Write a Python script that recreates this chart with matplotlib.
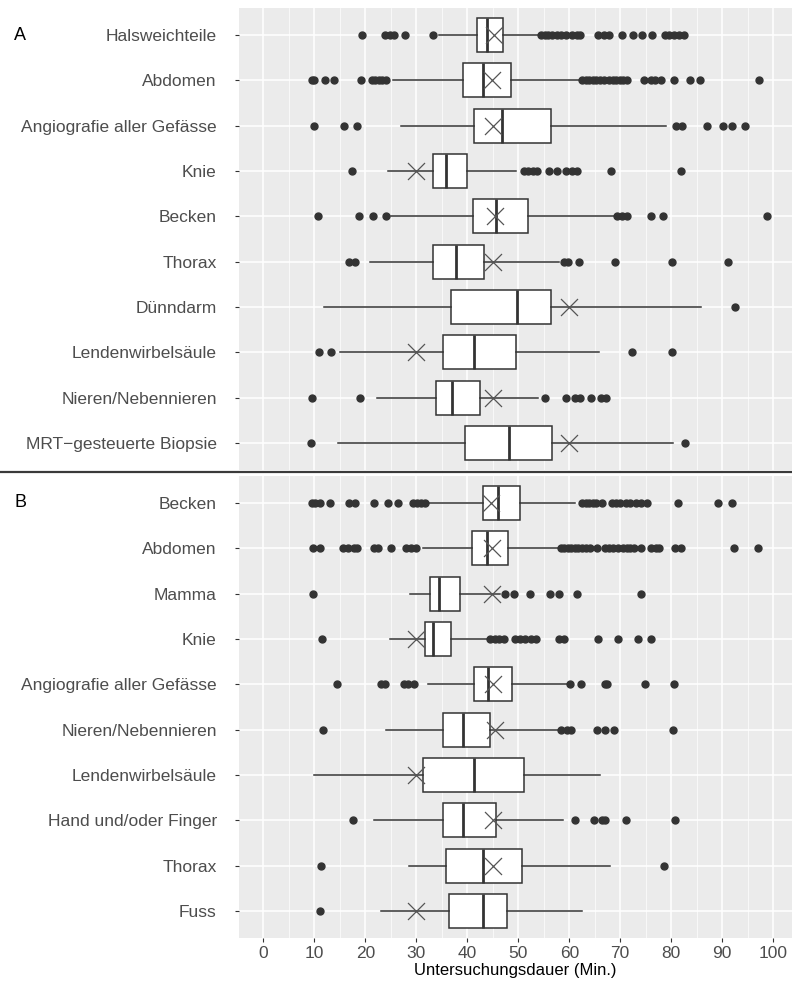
import matplotlib
matplotlib.use("Agg")
import matplotlib.pyplot as plt
from matplotlib.lines import Line2D

plt.rcParams['font.family'] = ['Liberation Sans', 'DejaVu Sans']

# ---- panel A ----
cats_a = ['Halsweichteile', 'Abdomen', 'Angiografie aller Gefässe', 'Knie', 'Becken',
          'Thorax', 'Dünndarm', 'Lendenwirbelsäule', 'Nieren/Nebennieren',
          'MRT\u2212gesteuerte Biopsie']
q1_a = [41.9, 39.1, 41.4, 33.3, 41.1, 33.3, 36.8, 35.2, 33.9, 39.6]
med_a = [43.8, 43.1, 46.8, 35.9, 45.7, 37.7, 49.8, 41.4, 37.0, 48.2]
q3_a = [46.9, 48.5, 56.5, 40.0, 52.0, 43.3, 56.5, 49.6, 42.4, 56.7]
wlo_a = [34.5, 25.5, 26.9, 24.5, 25.0, 21.0, 11.9, 15.1, 22.2, 14.7]
whi_a = [54.1, 62.2, 79.0, 49.6, 68.9, 57.9, 85.8, 65.9, 53.8, 80.3]
mean_a = [45.2, 44.9, 45.0, 29.9, 45.4, 45.0, 60.0, 29.9, 45.0, 60.0]
out_a = [
    [19.4, 23.8, 24.8, 25.6, 27.8, 33.2, 54.5, 55.2, 55.9, 56.6, 57.5, 58.4, 59.4,
     60.5, 61.5, 62.2, 65.7, 66.8, 67.7, 70.3, 72.6, 74.3, 76.2, 78.7, 79.6, 80.6, 81.5, 82.5],
    [9.5, 10.0, 12.1, 13.8, 19.1, 21.2, 21.9, 22.6, 23.3, 24.0, 62.5, 63.2, 63.9, 64.6,
     65.3, 66.0, 66.8, 67.8, 68.5, 69.2, 69.9, 70.6, 71.3, 74.6, 76.0, 76.9, 78.0, 80.6,
     83.7, 85.6, 97.3],
    [9.9, 15.8, 18.4, 81.0, 82.2, 87.0, 90.1, 91.9, 94.5],
    [17.3, 51.1, 52.0, 52.9, 53.6, 56.1, 57.6, 59.4, 60.5, 61.6, 68.2, 82.0],
    [10.7, 18.7, 21.5, 24.0, 69.4, 70.3, 71.3, 76.1, 78.3, 98.7],
    [16.8, 17.9, 59.0, 59.7, 61.9, 68.9, 80.2, 91.1],
    [92.5],
    [10.8, 13.3, 72.3, 80.1],
    [9.5, 19.0, 55.2, 59.4, 61.2, 62.2, 64.2, 66.3, 67.3],
    [9.4, 82.8],
]

# ---- panel B ----
cats_b = ['Becken', 'Abdomen', 'Mamma', 'Knie', 'Angiografie aller Gefässe',
          'Nieren/Nebennieren', 'Lendenwirbelsäule', 'Hand und/oder Finger', 'Thorax', 'Fuss']
q1_b = [43.0, 41.0, 32.7, 31.6, 41.4, 35.3, 31.3, 35.3, 35.8, 36.5]
med_b = [46.1, 43.8, 34.4, 33.3, 44.0, 39.1, 41.4, 39.1, 43.1, 43.1]
q3_b = [50.4, 47.9, 38.5, 36.7, 48.7, 44.5, 51.1, 45.7, 50.8, 47.7]
wlo_b = [32.2, 31.3, 28.7, 24.9, 32.2, 24.1, 9.9, 21.7, 28.5, 23.1]
whi_b = [61.2, 58.0, 46.4, 44.0, 59.7, 58.0, 66.1, 58.7, 68.0, 62.4]
mean_b = [44.7, 44.9, 44.9, 29.9, 45.0, 45.4, 29.9, 45.0, 45.0, 29.9]
out_b = [
    [9.5, 10.2, 11.0, 13.1, 16.8, 17.9, 21.7, 24.5, 26.4, 29.4, 30.1, 31.0, 31.7,
     62.5, 63.2, 63.9, 64.6, 65.3, 66.4, 68.4, 69.2, 70.0, 71.2, 72.0, 73.1, 74.1, 75.2,
     81.3, 89.2, 92.0],
    [9.8, 11.0, 15.6, 16.6, 17.7, 18.4, 21.7, 22.4, 25.0, 28.0, 28.9, 29.9,
     58.3, 59.0, 59.7, 60.4, 61.1, 61.8, 62.5, 63.3, 64.0, 65.4, 67.1, 67.8, 68.5, 69.5,
     70.6, 71.3, 72.0, 72.7, 74.1, 76.1, 77.0, 77.6, 80.8, 82.0, 92.4, 97.1],
    [9.7, 47.3, 49.2, 52.2, 56.2, 58.0, 61.5, 74.1],
    [11.4, 44.5, 45.4, 46.2, 47.1, 49.4, 50.4, 51.3, 52.4, 53.4, 58.0, 59.0, 65.7, 69.6,
     73.4, 76.0],
    [14.5, 23.1, 23.8, 27.5, 28.4, 29.6, 60.1, 62.3, 67.0, 67.5, 74.8, 80.6],
    [11.7, 58.3, 59.6, 60.4, 65.5, 67.1, 68.7, 80.4],
    [],
    [17.5, 61.2, 64.9, 66.4, 67.1, 71.2, 80.8],
    [11.2, 78.5],
    [11.1],
]

W, H = 792, 985
fig = plt.figure(figsize=(W / 100, H / 100), dpi=100)

BG = '#EBEBEB'
DARK = '#333333'
TXT = '#4D4D4D'


def draw_panel(ax, cats, q1, med, q3, wlo, whi, means, outs, show_x):
    n = len(cats)
    stats = []
    for i in range(n):
        stats.append(dict(med=med[i], q1=q1[i], q3=q3[i], whislo=wlo[i],
                          whishi=whi[i], fliers=outs[i]))
    pos = list(range(n))
    ax.set_facecolor(BG)
    ax.bxp(stats, positions=pos, vert=False, widths=0.75, showcaps=False,
           patch_artist=True, manage_ticks=False,
           boxprops=dict(facecolor='white', edgecolor=DARK, linewidth=1.1),
           medianprops=dict(color=DARK, linewidth=2.0),
           whiskerprops=dict(color=DARK, linewidth=1.1),
           flierprops=dict(marker='o', markerfacecolor=DARK, markeredgecolor=DARK,
                           markersize=5.0, linestyle='none'),
           zorder=3)
    ax.scatter(means, pos, marker='x', s=150, color='#555555', linewidths=0.9, zorder=4)

    ax.set_xlim(-4.8, 103.7)
    ax.set_ylim(n - 0.4, -0.6)
    ax.set_xticks(range(0, 101, 10))
    ax.set_xticks(range(5, 101, 10), minor=True)
    ax.set_yticks(pos)
    ax.set_yticklabels(cats)
    ax.grid(True, which='major', color='white', linewidth=1.1, zorder=0)
    ax.grid(True, which='minor', axis='x', color='white', linewidth=0.5, zorder=0)
    ax.set_axisbelow(True)
    for s in ax.spines.values():
        s.set_visible(False)
    ax.tick_params(axis='y', which='major', length=3, color=DARK, labelsize=12.5,
                   labelcolor=TXT, pad=13)
    ax.tick_params(axis='x', which='minor', length=0)
    if show_x:
        ax.tick_params(axis='x', which='major', length=3, color=DARK, labelsize=12.5,
                       labelcolor=TXT, pad=3)
        ax.set_xlabel('Untersuchungsdauer (Min.)', fontsize=12, color='black', labelpad=1)
    else:
        ax.tick_params(axis='x', which='major', length=0, labelbottom=False)


left = 239 / W
width = (W - 239) / W
ax_a = fig.add_axes([left, 1 - 470 / H, width, 462 / H])
ax_b = fig.add_axes([left, 1 - 938 / H, width, 462 / H])

draw_panel(ax_a, cats_a, q1_a, med_a, q3_a, wlo_a, whi_a, mean_a, out_a, False)
draw_panel(ax_b, cats_b, q1_b, med_b, q3_b, wlo_b, whi_b, mean_b, out_b, True)

fig.text(14 / W, 1 - 35 / H, 'A', fontsize=13, color='black', va='center', ha='left')
fig.text(14 / W, 1 - 503 / H, 'B', fontsize=13, color='black', va='center', ha='left')

fig.add_artist(Line2D([0, 1], [1 - 472.5 / H, 1 - 472.5 / H], color='#3a3a3a',
                      linewidth=1.6, transform=fig.transFigure))

fig.savefig('out.png', dpi=100, facecolor='white')
